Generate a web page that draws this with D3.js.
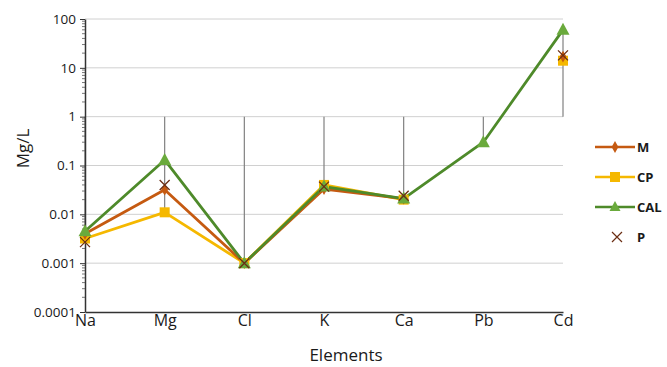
<!DOCTYPE html>
<html>
<head>
<meta charset="utf-8">
<script src="https://cdn.jsdelivr.net/npm/d3@7"></script>
<style>
  body { margin: 0; background: #fff; }
  text { font-family: "Open Sans", "Liberation Sans", sans-serif; fill: #1a1a1a; }
</style>
</head>
<body>
<div id="chart"></div>
<script>
var elements = ["Na", "Mg", "Cl", "K", "Ca", "Pb", "Cd"];
var seriesM   = [0.004, 0.032, 0.001, 0.033, 0.021, null, 17];
var seriesCP  = [0.0032, 0.011, 0.001, 0.04, 0.02, null, 14];
var seriesCAL = [0.0045, 0.13, 0.001, 0.037, 0.021, 0.3, 60];
var seriesP   = [0.0027, 0.04, 0.001, 0.037, 0.024, null, 18];
var hiddenRef = [1, 1, 1, 1, 1, 1, 1];
var yTicks = [0.0001, 0.001, 0.01, 0.1, 1, 10, 100];
var yTickLabels = ["0.0001", "0.001", "0.01", "0.1", "1", "10", "100"];

var svgWidth = 667, svgHeight = 367;
var margin = { top: 19, right: 104, bottom: 55, left: 85 };
var width = svgWidth - margin.left - margin.right;
var height = svgHeight - margin.top - margin.bottom;

var svg = d3.select("#chart").append("svg")
    .attr("width", svgWidth)
    .attr("height", svgHeight)
  .append("g")
    .attr("transform", "translate(" + margin.left + "," + margin.top + ")");

var xScale = d3.scalePoint().domain(elements).range([0, width]).padding(0);
var yScale = d3.scaleLog().domain([0.0001, 100]).range([height, 0]);

// gridlines
svg.append("g").selectAll("line")
    .data(yTicks.slice(1))
    .enter().append("line")
    .attr("x1", 0).attr("x2", width)
    .attr("y1", function(d) { return yScale(d); })
    .attr("y2", function(d) { return yScale(d); })
    .attr("stroke", "#d0d0d0").attr("stroke-width", 1);

// high-low lines (including hidden series at 1)
var allSeries = [seriesM, seriesCP, seriesCAL, seriesP, hiddenRef];
svg.append("g").selectAll("line")
    .data(elements)
    .enter().append("line")
    .attr("x1", function(d) { return xScale(d); })
    .attr("x2", function(d) { return xScale(d); })
    .attr("y1", function(d, i) {
        return yScale(d3.max(allSeries, function(s) { return s[i]; }));
    })
    .attr("y2", function(d, i) {
        return yScale(d3.min(allSeries, function(s) { return s[i]; }));
    })
    .attr("stroke", "#808080").attr("stroke-width", 1.2);

// y axis with minor ticks
var minor = [];
for (var e = -4; e < 2; e++) {
    for (var m = 2; m < 10; m++) minor.push(m * Math.pow(10, e));
}
var yAxisGroup = svg.append("g")
    .call(d3.axisLeft(yScale).tickValues(yTicks)
        .tickFormat(function(d, i) { return yTickLabels[i]; })
        .tickSize(5).tickSizeOuter(0));
yAxisGroup.select(".domain").attr("stroke", "#333").attr("stroke-width", 1.5);
yAxisGroup.selectAll(".tick line").attr("stroke", "#333");
yAxisGroup.selectAll("text").style("font-size", "13.5px").attr("x", -9);
svg.append("g").selectAll("line")
    .data(minor).enter().append("line")
    .attr("x1", -3).attr("x2", 0)
    .attr("y1", function(d) { return yScale(d); })
    .attr("y2", function(d) { return yScale(d); })
    .attr("stroke", "#555").attr("stroke-width", 0.8);

// x axis
var xAxisGroup = svg.append("g")
    .attr("transform", "translate(0," + height + ")")
    .call(d3.axisBottom(xScale).tickSize(0).tickPadding(3));
xAxisGroup.select(".domain").attr("stroke", "#333").attr("stroke-width", 1.5);
xAxisGroup.selectAll("text").style("font-size", "16px");

// axis titles
svg.append("text")
    .attr("transform", "rotate(-90)")
    .attr("x", -(height / 2) + 17)
    .attr("y", -margin.left + 29)
    .style("text-anchor", "middle")
    .style("font-size", "17px")
    .text("Mg/L");
svg.append("text")
    .attr("x", width / 2 + 22)
    .attr("y", height + 49)
    .style("text-anchor", "middle")
    .style("font-size", "17px")
    .text("Elements");

var line = d3.line()
    .defined(function(d) { return d != null; })
    .x(function(d, i) { return xScale(elements[i]); })
    .y(function(d) { return yScale(d); });

function drawLine(data, color) {
    svg.append("path").datum(data)
        .attr("d", line)
        .attr("fill", "none")
        .attr("stroke", color)
        .attr("stroke-width", 2.8)
        .attr("stroke-linejoin", "round");
}

var colM = "#c55a11", colCP = "#f5b800", colCAL = "#4e8a2a", colCALm = "#6aaa3c", colP = "#6b2e14";

drawLine(seriesCP, colCP);
drawLine(seriesM, colM);
drawLine(seriesCAL, colCAL);

function pts(data) {
    return data.map(function(v, i) { return { v: v, i: i }; }).filter(function(d) { return d.v != null; });
}

// CP squares
svg.append("g").selectAll("rect").data(pts(seriesCP)).enter().append("rect")
    .attr("x", function(d) { return xScale(elements[d.i]) - 5; })
    .attr("y", function(d) { return yScale(d.v) - 5; })
    .attr("width", 10).attr("height", 10)
    .attr("fill", colCP);
// M diamonds
svg.append("g").selectAll("path").data(pts(seriesM)).enter().append("path")
    .attr("transform", function(d) { return "translate(" + xScale(elements[d.i]) + "," + yScale(d.v) + ")"; })
    .attr("d", d3.symbol().type(d3.symbolDiamond).size(40))
    .attr("fill", colM);
// CAL triangles
svg.append("g").selectAll("path").data(pts(seriesCAL)).enter().append("path")
    .attr("transform", function(d) { return "translate(" + xScale(elements[d.i]) + "," + yScale(d.v) + ")"; })
    .attr("d", "M0,-7L6.5,5L-6.5,5Z")
    .attr("fill", colCALm);
// P crosses
svg.append("g").selectAll("path").data(pts(seriesP)).enter().append("path")
    .attr("transform", function(d) { return "translate(" + xScale(elements[d.i]) + "," + yScale(d.v) + ")"; })
    .attr("d", "M-5,-5L5,5M-5,5L5,-5")
    .attr("stroke", colP).attr("stroke-width", 1.3).attr("fill", "none");

// legend
var legendNames = ["M", "CP", "CAL", "P"];
var legend = svg.append("g").attr("transform", "translate(" + (width + 32) + ",128)");
legendNames.forEach(function(name, i) {
    var g = legend.append("g").attr("transform", "translate(0," + (i * 30) + ")");
    if (name !== "P") {
        var c = name === "M" ? colM : name === "CP" ? colCP : colCAL;
        g.append("line").attr("x1", 0).attr("x2", 40).attr("y1", 0).attr("y2", 0)
            .attr("stroke", c).attr("stroke-width", 2.6);
    }
    if (name === "M") {
        g.append("path").attr("transform", "translate(20,0)")
            .attr("d", d3.symbol().type(d3.symbolDiamond).size(40)).attr("fill", colM);
    } else if (name === "CP") {
        g.append("rect").attr("x", 15).attr("y", -5).attr("width", 10).attr("height", 10).attr("fill", colCP);
    } else if (name === "CAL") {
        g.append("path").attr("transform", "translate(20,0)")
            .attr("d", "M0,-6L5.5,4L-5.5,4Z").attr("fill", colCALm);
    } else {
        g.append("path").attr("transform", "translate(22,0)")
            .attr("d", "M-5,-5L5,5M-5,5L5,-5")
            .attr("stroke", colP).attr("stroke-width", 1.2).attr("fill", "none");
    }
    g.append("text").attr("x", 42).attr("y", 5)
        .style("font-size", "13px").style("font-weight", "bold")
        .text(name);
});
</script>
</body>
</html>
